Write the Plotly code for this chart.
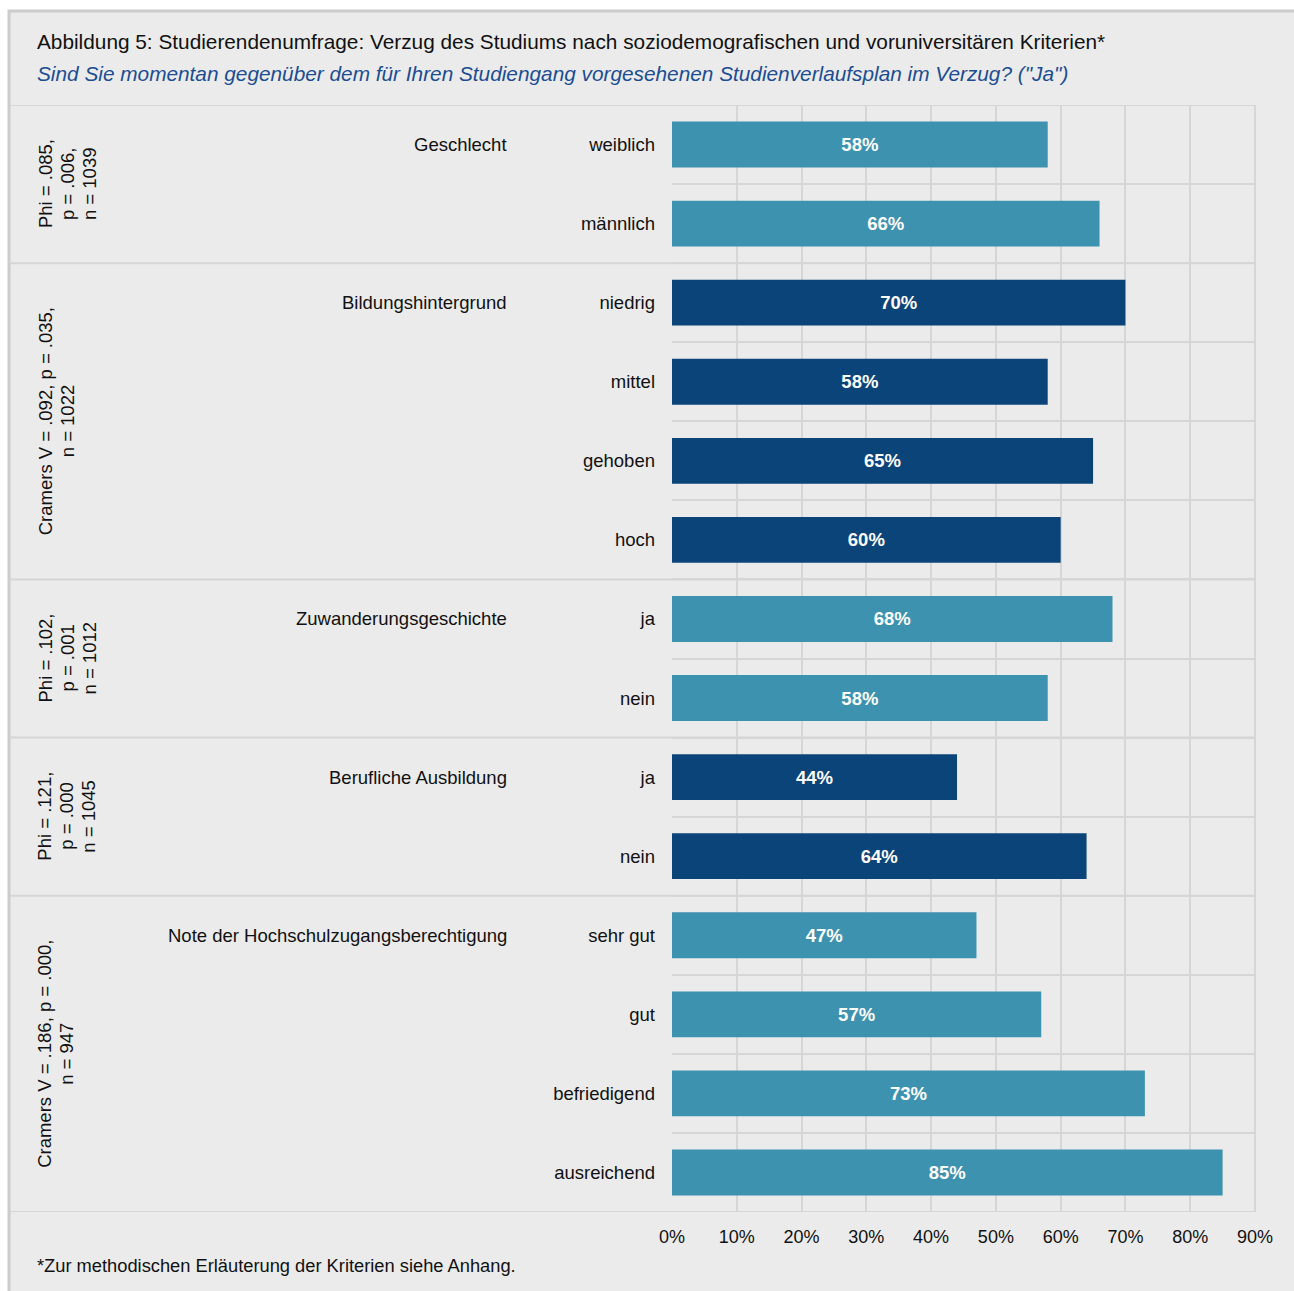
import plotly.graph_objects as go

# ---------------- data ----------------
categories = ["weiblich", "männlich",
              "niedrig", "mittel", "gehoben", "hoch",
              "ja", "nein",
              "ja", "nein",
              "sehr gut", "gut", "befriedigend", "ausreichend"]
values = [58, 66, 70, 58, 65, 60, 68, 58, 44, 64, 47, 57, 73, 85]
group_of_row = [0, 0, 1, 1, 1, 1, 2, 2, 3, 3, 4, 4, 4, 4]
group_names = ["Geschlecht", "Bildungshintergrund", "Zuwanderungsgeschichte",
               "Berufliche Ausbildung", "Note der Hochschulzugangsberechtigung"]
group_stats = [["Phi = .085,", "p = .006,", "n = 1039"],
               ["Cramers V = .092, p = .035,", "n = 1022"],
               ["Phi = .102,", "p = .001", "n = 1012"],
               ["Phi = .121,", "p = .000", "n = 1045"],
               ["Cramers V = .186, p = .000,", "n = 947"]]
x_ticks = [0, 10, 20, 30, 40, 50, 60, 70, 80, 90]
title = "Abbildung 5: Studierendenumfrage: Verzug des Studiums nach soziodemografischen und voruniversitären Kriterien*"
subtitle = "Sind Sie momentan gegenüber dem für Ihren Studiengang vorgesehenen Studienverlaufsplan im Verzug? (\"Ja\")"
footnote = "*Zur methodischen Erläuterung der Kriterien siehe Anhang."

# ---------------- style ----------------
W, H = 1294, 1291
FONT = "Liberation Sans"
LIGHT = "#3d92b0"
DARK = "#0b4479"
GRID = "#d6d6d6"
BG = "#ebebeb"
TXT = "#111111"


def px(x):
    return x / W


def py(y):
    return 1 - y / H


rows = list(range(len(categories)))
colors = [LIGHT if g % 2 == 0 else DARK for g in group_of_row]

fig = go.Figure()
fig.add_trace(go.Bar(
    x=values, y=rows, orientation="h",
    marker=dict(color=colors, line=dict(width=0)),
    width=0.58,
    text=[f"{v}%" for v in values],
    textposition="inside", insidetextanchor="middle",
    textfont=dict(family=FONT, size=18.5, color="white", weight="bold"),
    hoverinfo="skip",
))

x0, x1 = 672, 1255
y0, y1 = 105, 1212

fig.update_layout(
    width=W, height=H,
    margin=dict(l=0, r=0, t=0, b=0, autoexpand=False),
    paper_bgcolor="white",
    plot_bgcolor="rgba(0,0,0,0)",
    showlegend=False,
    font=dict(family=FONT, size=18.5, color=TXT),
    xaxis=dict(
        domain=[px(x0), px(x1)],
        range=[0, 90],
        tickvals=x_ticks,
        ticktext=[f"{t}%" for t in x_ticks],
        showgrid=True, gridcolor=GRID, gridwidth=2,
        zeroline=False, showline=False, automargin=False,
        ticks="", ticklabelstandoff=12,
        tickfont=dict(family=FONT, size=18, color=TXT),
        fixedrange=True,
    ),
    yaxis=dict(
        domain=[py(y1), py(y0)],
        range=[len(categories) - 0.5, -0.5],
        tickvals=rows, ticktext=categories,
        showgrid=False, zeroline=False, showline=False, automargin=False,
        ticks="", ticklabelstandoff=16,
        tickfont=dict(family=FONT, size=18.5, color=TXT),
        minor=dict(tickmode="array",
                   tickvals=[r + 0.5 for r in rows[:-1]],
                   showgrid=True, gridcolor=GRID, gridwidth=2, ticks=""),
        fixedrange=True,
    ),
)

shapes = []
# panel background
shapes.append(dict(type="rect", xref="paper", yref="paper",
                   x0=px(9), x1=1.02, y0=-0.02, y1=py(11),
                   fillcolor=BG, line=dict(color="#cccccc", width=3), layer="below"))
# frame lines (top/bottom full width, right edge)
for yv in (-0.5, len(categories) - 0.5):
    shapes.append(dict(type="line", xref="paper", yref="y",
                       x0=px(10), x1=px(x1), y0=yv, y1=yv,
                       line=dict(color=GRID, width=2), layer="below"))
shapes.append(dict(type="line", xref="paper", yref="paper",
                   x0=px(x1), x1=px(x1), y0=py(y1), y1=py(y0),
                   line=dict(color=GRID, width=2), layer="below"))
# group separators
for i in range(1, len(group_of_row)):
    if group_of_row[i] != group_of_row[i - 1]:
        shapes.append(dict(type="line", xref="paper", yref="y",
                           x0=px(10), x1=px(x1), y0=i - 0.5, y1=i - 0.5,
                           line=dict(color=GRID, width=2), layer="below"))
fig.update_layout(shapes=shapes)

ann = []
ann.append(dict(text=title, xref="paper", yref="paper", x=px(35), y=py(41),
                xanchor="left", yanchor="middle", showarrow=False,
                font=dict(family=FONT, size=20.8, color=TXT)))
ann.append(dict(text=subtitle, xref="paper", yref="paper", x=px(35), y=py(73),
                xanchor="left", yanchor="middle", showarrow=False,
                font=dict(family=FONT, size=20.8, color="#1b4d93", style="italic")))
ann.append(dict(text=footnote, xref="paper", yref="paper", x=px(35), y=py(1265),
                xanchor="left", yanchor="middle", showarrow=False,
                font=dict(family=FONT, size=18.3, color=TXT)))

for g, name in enumerate(group_names):
    idx = [r for r in rows if group_of_row[r] == g]
    ann.append(dict(text=name, xref="paper", yref="y", x=px(509), y=idx[0],
                    xanchor="right", yanchor="middle", showarrow=False,
                    font=dict(family=FONT, size=18.5, color=TXT)))
    for k, line in enumerate(group_stats[g]):
        ann.append(dict(text=line, xref="paper", yref="y", x=px(45 + 22 * k),
                        y=sum(idx) / len(idx), xanchor="center", yanchor="middle",
                        textangle=-90, showarrow=False,
                        font=dict(family=FONT, size=18.5, color=TXT)))
fig.update_layout(annotations=ann)

fig.write_html("out.html",
               config={"displayModeBar": False},
               post_script="document.body.style.margin='0';document.body.style.overflow='hidden';")
